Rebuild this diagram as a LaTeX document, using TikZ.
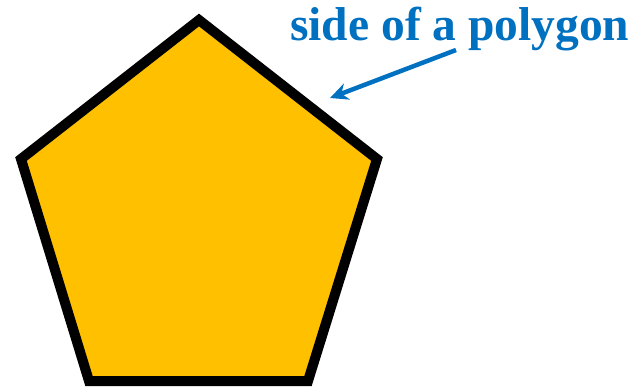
\documentclass[tikz,border=0pt]{standalone}
\usepackage{fontspec}
\setmainfont{Liberation Serif}
\usetikzlibrary{arrows.meta}
\definecolor{pentfill}{HTML}{FFC000}
\definecolor{labelblue}{HTML}{0070C0}
\begin{document}
\begin{tikzpicture}[x=1pt,y=-1pt,
  pent/.style={draw=black,fill=pentfill,line width=10pt,miter limit=10,line join=miter},
  lbl/.style={text=labelblue,font=\bfseries\fontsize{47.5}{50}\selectfont,inner sep=0pt,anchor=base west},
  pointer/.style={draw=labelblue,line width=4.5pt,-{Stealth[length=18pt,width=17pt]}}]
\useasboundingbox (0,0) rectangle (634,386);
\coordinate (t) at (199,20);
\coordinate (r) at (377,159);
\coordinate (br) at (308,381);
\coordinate (bl) at (89,381);
\coordinate (l) at (21,159);
\path[pent] (t) -- (r) -- (br) -- (bl) -- (l) -- cycle;
\node[lbl] (label) at (290,40) {side of a polygon};
\coordinate (from) at (456,50);
\coordinate (tip) at (330,98);
\draw[pointer] (from) -- (tip);
\end{tikzpicture}
\end{document}
